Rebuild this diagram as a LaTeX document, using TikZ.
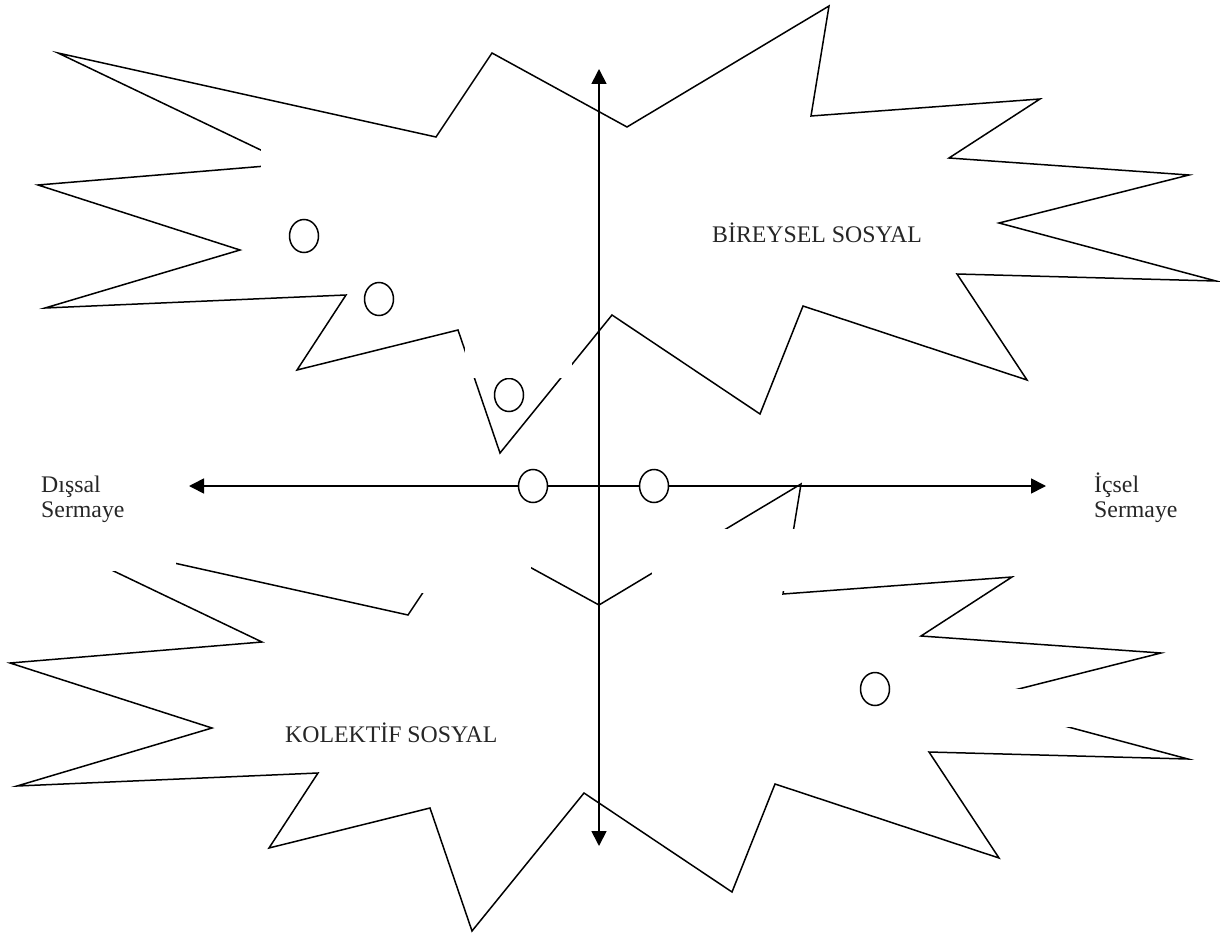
\documentclass[tikz,border=0pt]{standalone}
\usepackage{fontspec}
\setmainfont{Liberation Serif}
\usetikzlibrary{arrows.meta,shapes.geometric}
\newcommand{\burstoutline}{(58,53) -- (436,137) -- (492,53) -- (627,127) -- (829,6) -- (811,116) -- (1040,99) -- (949,158) -- (1189,175) -- (999,223) -- (1216,281) -- (957,274) -- (1027,380) -- (803,306) -- (760,414) -- (612,315) -- (500,453) -- (458,330) -- (297,370) -- (346,295) -- (45,308) -- (240,250) -- (38,185) -- (290,164) -- cycle}
\tikzset{
  burst/.style={draw=black, line width=1.5pt, line join=miter},
  hider/.style={fill=white, draw=none},
  axisline/.style={draw=black, line width=1.7pt, {Triangle[length=15pt,width=15pt]}-{Triangle[length=15pt,width=15pt]}},
  ring/.style={ellipse, draw=black, fill=white, line width=1.5pt, minimum width=29pt, minimum height=33pt, inner sep=0pt},
  lbl/.style={anchor=base west, inner sep=0pt, font=\fontsize{23.8}{28}\selectfont, text=black!85}
}
\begin{document}
\begin{tikzpicture}[x=1pt, y=-1pt]
\useasboundingbox (0,0) rectangle (1220,936);
% the two bursts
\draw[burst] \burstoutline;
\draw[burst, shift={(-28,478)}] \burstoutline;
% off-axis rings
\node[ring] (r1) at (304,236) {};
\node[ring] (r2) at (379,299) {};
\node[ring] (r3) at (509,395) {};
\node[ring] (r6) at (875,689) {};
% white covers that open the gaps in the outlines
\fill[hider] (261,140) rectangle (335,200);
\fill[hider] (465,345) rectangle (572,378);
\fill[hider] (0,525) rectangle (176,571);
\fill[hider] (415,505) rectangle (531,593);
\fill[hider] (652,529) rectangle (800,591);
\fill[hider] (900,689) rectangle (1080,727);
% axes
\coordinate (vtop) at (599,69);
\coordinate (vbot) at (599,846);
\coordinate (hleft) at (189,486);
\coordinate (hright) at (1046,486);
\draw[axisline] (vbot) -- (vtop);
\draw[axisline] (hleft) -- (hright);
% rings on the horizontal axis
\node[ring] (r4) at (533,486) {};
\node[ring] (r5) at (654,486) {};
% labels
\node[lbl] (dis1) at (41,492) {Dışsal};
\node[lbl] (dis2) at (41,517) {Sermaye};
\node[lbl] (ic1) at (1094,492) {İçsel};
\node[lbl] (ic2) at (1094,517) {Sermaye};
\node[lbl] (bir) at (712,242) {BİREYSEL SOSYAL};
\node[lbl] (kol) at (285,742) {KOLEKTİF SOSYAL};
\end{tikzpicture}
\end{document}
